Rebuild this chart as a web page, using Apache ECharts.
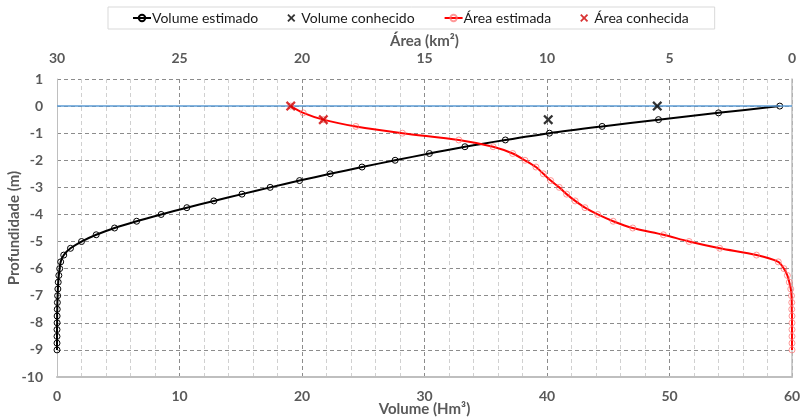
<!DOCTYPE html>
<html>
<head>
<meta charset="utf-8">
<script src="https://cdn.jsdelivr.net/npm/echarts@6/dist/echarts.min.js"></script>
<style>html,body{margin:0;padding:0;background:#fff}#c{width:811px;height:419px}</style>
</head>
<body>
<div id="c"></div>
<script>
// Depth steps (m)
const depths = [0,-0.25,-0.5,-0.75,-1,-1.25,-1.5,-1.75,-2,-2.25,-2.5,-2.75,-3,-3.25,-3.5,-3.75,-4,-4.25,-4.5,-4.75,-5,-5.25,-5.5,-5.75,-6,-6.25,-6.5,-6.75,-7,-7.25,-7.5,-7.75,-8,-8.25,-8.5,-8.75,-9];
// Volume estimado (Hm³)
const volumeEstimado = [59.0,54.0,49.1,44.5,40.2,36.6,33.3,30.4,27.6,24.9,22.3,19.8,17.4,15.1,12.8,10.6,8.5,6.5,4.7,3.2,2.0,1.1,0.55,0.3,0.22,0.15,0.1,0.07,0.05,0.03,0.02,0.01,0.01,0,0,0,0];
// Área estimada (km²)
const areaEstimada = [20.46,19.95,19.13,17.8,15.9,13.6,12.2,11.4,10.9,10.45,10.15,9.85,9.5,9.2,8.85,8.45,7.93,7.3,6.5,5.25,4.2,2.95,1.45,0.56,0.33,0.19,0.11,0.05,0.02,0.01,0.01,0,0,0,0,0,0];
// Known points
const volumeConhecidoX = [49.0, 40.1];
const volumeConhecidoY = [0, -0.5];
const areaConhecidaX = [20.46, 19.13];
const areaConhecidaY = [0, -0.5];
// Tick settings
const volTicks = {min:0, max:60, interval:10};
const areaTicks = {min:0, max:30, interval:5};
const depthTicks = {min:-10, max:1, interval:1};

const X = 'path://M0,1.6L1.6,0L5,3.4L8.4,0L10,1.6L6.6,5L10,8.4L8.4,10L5,6.6L1.6,10L0,8.4L3.4,5Z';
const FONT = 'Lato,"Open Sans",sans-serif';
const lab = {color:'#595959', fontWeight:'bold', fontSize:14, fontFamily:FONT};

const zip = (xs, ys) => xs.map((x,i)=>[x, ys[i]]);

const chart = echarts.init(document.getElementById('c'));
chart.setOption({
  animation:false,
  legend:{
    top:7, left:108,
    borderColor:'#D9D9D9', borderWidth:1, padding:[4,26,4,24],
    itemGap:29, itemWidth:18, itemHeight:8,
    textStyle:{color:'#1a1a1a', fontSize:14, fontFamily:FONT, padding:[0,0,0,-4]},
    data:['Volume estimado','Volume conhecido','Área estimada','Área conhecida']
  },
  grid:{left:57, right:19, top:79, bottom:42, outerBoundsMode:'none'},
  xAxis:[
    {type:'value', position:'bottom', min:volTicks.min, max:volTicks.max, interval:volTicks.interval,
     name:'Volume (Hm³)', nameLocation:'middle', nameGap:25, nameMoveOverlap:false,
     nameTextStyle:Object.assign({},lab,{fontSize:15}),
     axisLine:{show:true, onZero:false, lineStyle:{color:'#BFBFBF', width:2}},
     axisTick:{show:false}, axisLabel:Object.assign({margin:12},lab),
     splitLine:{show:true, lineStyle:{color:'#8C8C8C', type:[4,3], width:1}},
     minorTick:{show:false, splitNumber:5},
     minorSplitLine:{show:true, lineStyle:{color:'#D0D0D0', type:[4,3], width:1}}},
    {type:'value', position:'top', min:areaTicks.min, max:areaTicks.max, interval:areaTicks.interval, inverse:true,
     name:'Área (km²)', nameLocation:'middle', nameGap:30, nameMoveOverlap:false,
     nameTextStyle:Object.assign({},lab,{fontSize:15}),
     axisLine:{show:false}, axisTick:{show:false}, axisLabel:Object.assign({margin:14},lab),
     splitLine:{show:false}}
  ],
  yAxis:[
    {type:'value', min:depthTicks.min, max:depthTicks.max, interval:depthTicks.interval,
     name:'Profundidade (m)', nameLocation:'middle', nameGap:35, nameMoveOverlap:false,
     nameTextStyle:Object.assign({},lab,{fontSize:15}),
     axisLine:{show:true, onZero:false, lineStyle:{color:'#BFBFBF', width:1}},
     axisTick:{show:false}, axisLabel:Object.assign({margin:14},lab),
     splitLine:{show:true, lineStyle:{color:'#8C8C8C', type:[4,3], width:1}}},
    {type:'value', position:'right', min:depthTicks.min, max:depthTicks.max, interval:depthTicks.interval,
     axisLine:{show:true, onZero:false, lineStyle:{color:'#BFBFBF', width:1.5}},
     axisTick:{show:false}, axisLabel:{show:false}, splitLine:{show:false}}
  ],
  series:[
    {name:'Volume estimado', type:'line', xAxisIndex:0, yAxisIndex:0, smooth:0.3, clip:false,
     data:zip(volumeEstimado, depths),
     symbol:'circle', symbolSize:6, z:4,
     lineStyle:{color:'#000', width:2}, itemStyle:{color:'rgba(255,255,255,0)', borderColor:'#000', borderWidth:1},
     markLine:{silent:true, symbol:'none', label:{show:false},
       lineStyle:{color:'#5B9BD5', type:'solid', width:1.5},
       data:[{yAxis:0}]}},
    {name:'Volume conhecido', type:'scatter', xAxisIndex:0, yAxisIndex:0,
     data:zip(volumeConhecidoX, volumeConhecidoY), symbol:X, symbolSize:10, z:5,
     itemStyle:{color:'#000'}},
    {name:'Área estimada', type:'line', xAxisIndex:1, yAxisIndex:0, smooth:0.3, clip:false,
     data:zip(areaEstimada, depths),
     symbol:'circle', symbolSize:6, z:6,
     lineStyle:{color:'#FF0000', width:2},
     itemStyle:{color:'rgba(255,255,255,0)', borderColor:'rgba(255,110,110,0.7)', borderWidth:1}},
    {name:'Área conhecida', type:'scatter', xAxisIndex:1, yAxisIndex:0,
     data:zip(areaConhecidaX, areaConhecidaY), symbol:X, symbolSize:10, z:7,
     itemStyle:{color:'#D00000'}}
  ]
});
</script>
</body>
</html>
